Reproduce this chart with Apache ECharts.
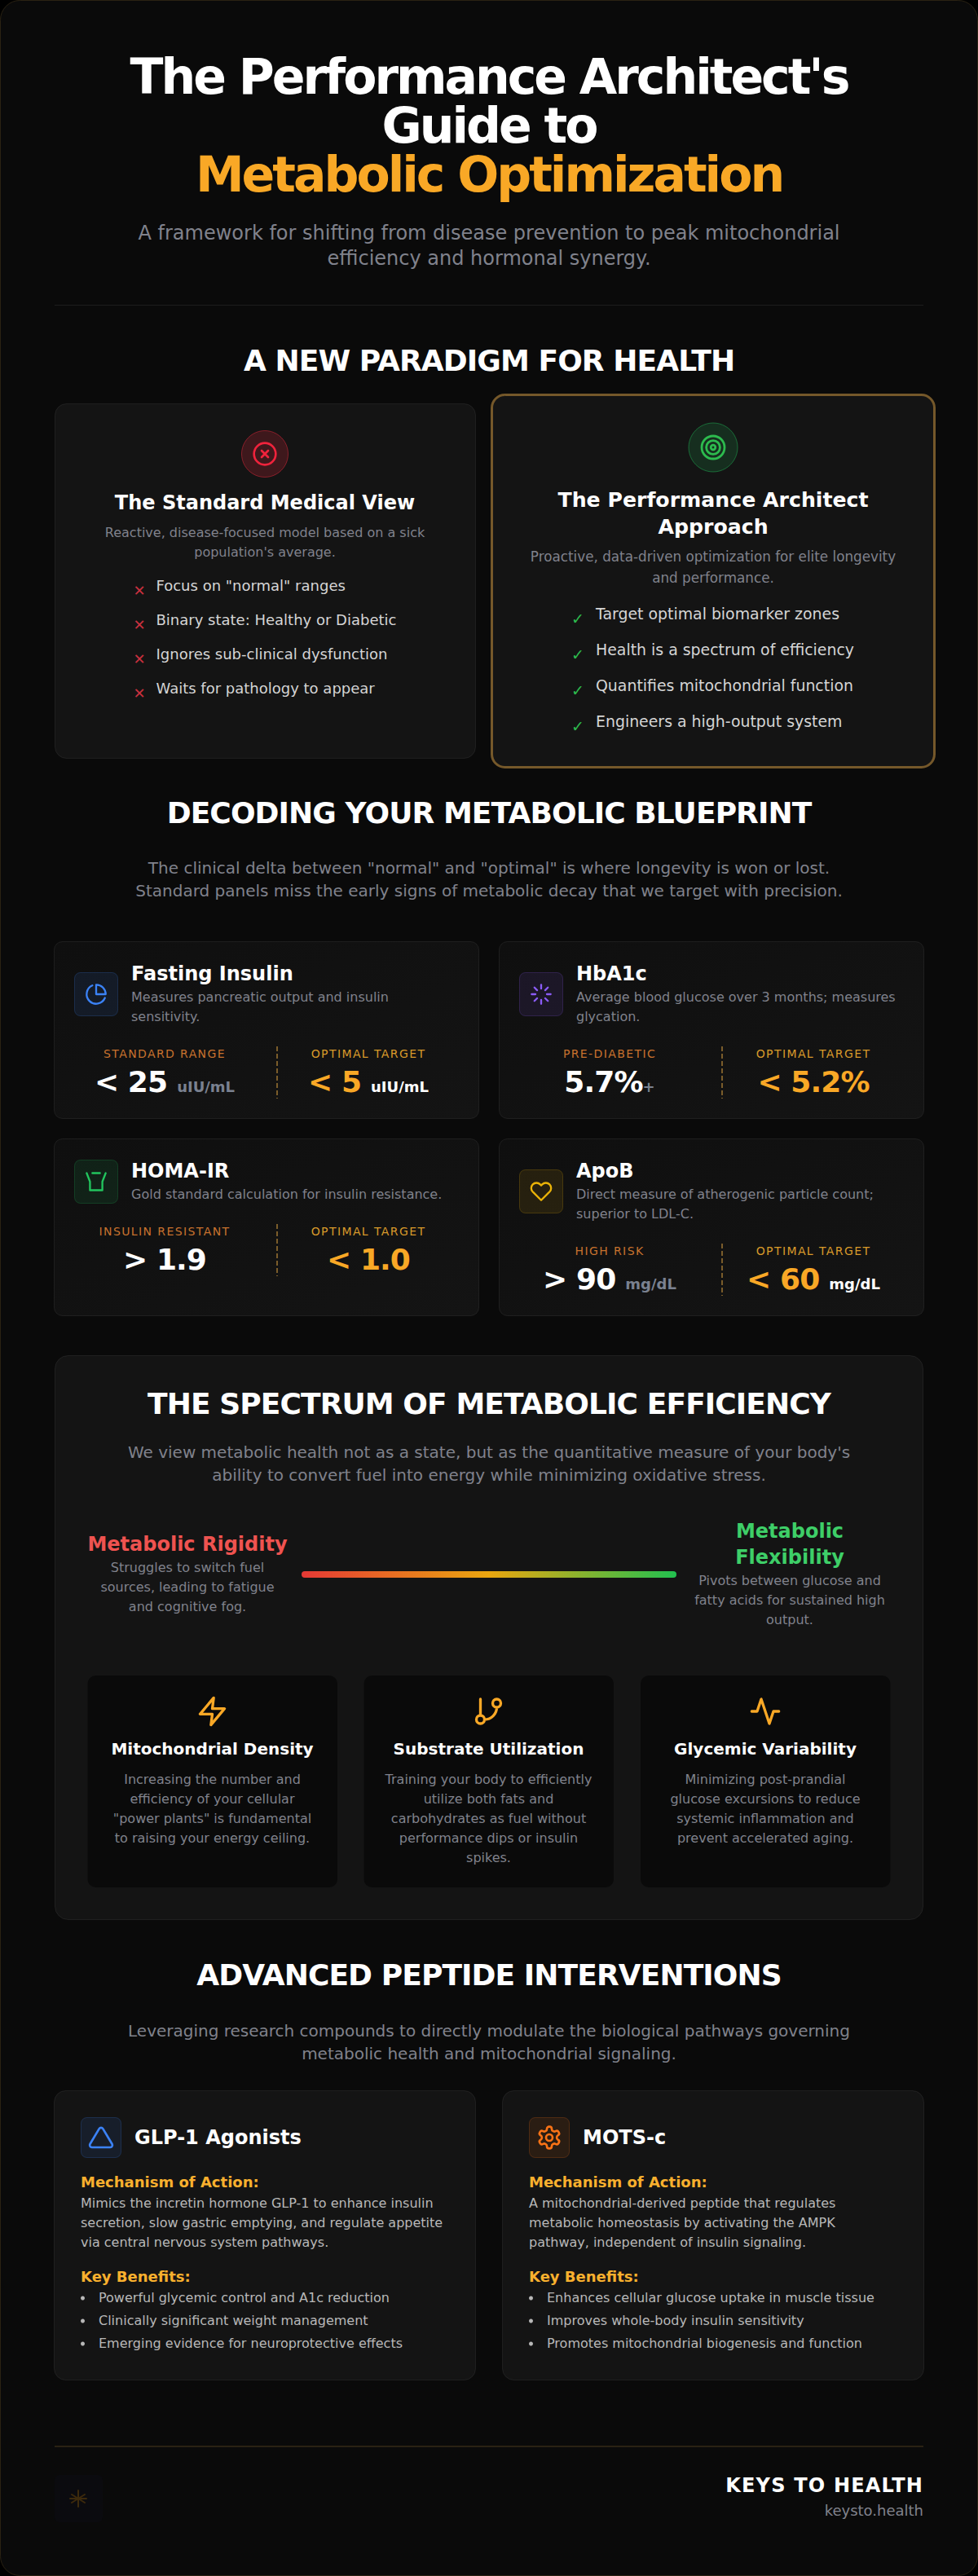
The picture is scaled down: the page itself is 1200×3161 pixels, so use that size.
<!DOCTYPE html>
<html>
<head>
<meta charset="utf-8">
<title>Metabolic Optimization</title>
<script src="https://cdn.jsdelivr.net/npm/echarts@6/dist/echarts.min.js"></script>
<style>html,body{margin:0;padding:0;background:#000}</style>
</head>
<body>
<div id="main" style="width:1200px;height:3161px"></div>
<script type="text/javascript">
var pageTitle = ["The Performance Architect's", 'Guide to', 'Metabolic Optimization'];
var pageSubtitle = ['A framework for shifting from disease prevention to peak mitochondrial', 'efficiency and hormonal synergy.'];

var standardItems = ['Focus on "normal" ranges', 'Binary state: Healthy or Diabetic', 'Ignores sub-clinical dysfunction', 'Waits for pathology to appear'];
var architectItems = ['Target optimal biomarker zones', 'Health is a spectrum of efficiency', 'Quantifies mitochondrial function', 'Engineers a high-output system'];

var blueprintIntro = ['The clinical delta between "normal" and "optimal" is where longevity is won or lost.', 'Standard panels miss the early signs of metabolic decay that we target with precision.'];
var markerNames = ['Fasting Insulin', 'HbA1c', 'HOMA-IR', 'ApoB'];
var markerDescs = [
    ['Measures pancreatic output and insulin', 'sensitivity.'],
    ['Average blood glucose over 3 months; measures', 'glycation.'],
    ['Gold standard calculation for insulin resistance.'],
    ['Direct measure of atherogenic particle count;', 'superior to LDL-C.']
];
var markerIcons = ['pie', 'loader', 'cup', 'heart'];
var markerColors = ['#3b82f6', '#8b5cf6', '#22c55e', '#eab308'];
var riskLabels = ['STANDARD RANGE', 'PRE-DIABETIC', 'INSULIN RESISTANT', 'HIGH RISK'];
var riskValues = ['< 25', '5.7%', '> 1.9', '> 90'];
var riskUnits = ['uIU/mL', '+', '', 'mg/dL'];
var targetValues = ['< 5', '< 5.2%', '< 1.0', '< 60'];
var targetUnits = ['uIU/mL', '', '', 'mg/dL'];

var spectrumIntro = ["We view metabolic health not as a state, but as the quantitative measure of your body's", 'ability to convert fuel into energy while minimizing oxidative stress.'];
var rigidityDesc = ['Struggles to switch fuel', 'sources, leading to fatigue', 'and cognitive fog.'];
var flexibilityDesc = ['Pivots between glucose and', 'fatty acids for sustained high', 'output.'];
var spectrumValue = [100];
var spectrumColors = ['#e53935', '#eaa60f', '#22c04f'];
var pillarNames = ['Mitochondrial Density', 'Substrate Utilization', 'Glycemic Variability'];
var pillarIcons = ['zap', 'branch', 'activity'];
var pillarDescs = [
    ['Increasing the number and', 'efficiency of your cellular', '"power plants" is fundamental', 'to raising your energy ceiling.'],
    ['Training your body to efficiently', 'utilize both fats and', 'carbohydrates as fuel without', 'performance dips or insulin', 'spikes.'],
    ['Minimizing post-prandial', 'glucose excursions to reduce', 'systemic inflammation and', 'prevent accelerated aging.']
];

var peptideIntro = ['Leveraging research compounds to directly modulate the biological pathways governing', 'metabolic health and mitochondrial signaling.'];
var peptideNames = ['GLP-1 Agonists', 'MOTS-c'];
var peptideIcons = ['triangle', 'gear'];
var peptideColors = ['#3b82f6', '#f97316'];
var peptideMechanisms = [
    ['Mimics the incretin hormone GLP-1 to enhance insulin', 'secretion, slow gastric emptying, and regulate appetite', 'via central nervous system pathways.'],
    ['A mitochondrial-derived peptide that regulates', 'metabolic homeostasis by activating the AMPK', 'pathway, independent of insulin signaling.']
];
var peptideBenefits = [
    ['Powerful glycemic control and A1c reduction', 'Clinically significant weight management', 'Emerging evidence for neuroprotective effects'],
    ['Enhances cellular glucose uptake in muscle tissue', 'Improves whole-body insulin sensitivity', 'Promotes mitochondrial biogenesis and function']
];

var FONT = "'DejaVu Sans'";
var GOLD = '#f9a826';
var GREY = '#80828c';
var PANEL = '#141414';
var EDGE = 'rgba(255,255,255,0.07)';

// lucide style icons, 24 unit box
var iconPaths = {
    xcircle: 'M22 12a10 10 0 1 1-20 0a10 10 0 1 1 20 0z M15 9l-6 6 M9 9l6 6',
    target: 'M22 12a10 10 0 1 1-20 0a10 10 0 1 1 20 0z M18 12a6 6 0 1 1-12 0a6 6 0 1 1 12 0z M14 12a2 2 0 1 1-4 0a2 2 0 1 1 4 0z',
    pie: 'M21.21 15.89A10 10 0 1 1 8 2.83 M22 12A10 10 0 0 0 12 2v10z',
    loader: 'M12 2v4 M12 18v4 M4.93 4.93l2.83 2.83 M16.24 16.24l2.83 2.83 M2 12h4 M18 12h4 M4.93 19.07l2.83-2.83 M16.24 7.76l2.83-2.83',
    cup: 'M2 3l3.5 9v9h13v-9l3.5-9 M8 3h8',
    heart: 'M20.84 4.61a5.5 5.5 0 0 0-7.78 0L12 5.67l-1.06-1.06a5.5 5.5 0 0 0-7.78 7.78l1.06 1.06L12 21.23l7.78-7.78 1.06-1.06a5.5 5.5 0 0 0 0-7.78z',
    zap: 'M13 2L3 14h9l-1 8l10-12h-9l1-8z',
    branch: 'M6 3v12 M21 6a3 3 0 1 1-6 0a3 3 0 1 1 6 0z M9 18a3 3 0 1 1-6 0a3 3 0 1 1 6 0z M18 9a9 9 0 0 1-9 9',
    activity: 'M22 12h-4l-3 9L9 3l-3 9H2',
    triangle: 'M10.29 3.86L1.82 18a2 2 0 0 0 1.71 3h16.94a2 2 0 0 0 1.71-3L13.71 3.86a2 2 0 0 0-3.42 0z',
    gear: 'M12.22 2h-.44a2 2 0 0 0-2 2v.18a2 2 0 0 1-1 1.73l-.43.25a2 2 0 0 1-2 0l-.15-.08a2 2 0 0 0-2.73.73l-.22.38a2 2 0 0 0 .73 2.73l.15.1a2 2 0 0 1 1 1.72v.51a2 2 0 0 1-1 1.74l-.15.09a2 2 0 0 0-.73 2.73l.22.38a2 2 0 0 0 2.73.73l.15-.08a2 2 0 0 1 2 0l.43.25a2 2 0 0 1 1 1.73V20a2 2 0 0 0 2 2h.44a2 2 0 0 0 2-2v-.18a2 2 0 0 1 1-1.73l.43-.25a2 2 0 0 1 2 0l.15.08a2 2 0 0 0 2.73-.73l.22-.39a2 2 0 0 0-.73-2.73l-.15-.08a2 2 0 0 1-1-1.74v-.5a2 2 0 0 1 1-1.74l.15-.09a2 2 0 0 0 .73-2.73l-.22-.38a2 2 0 0 0-2.73-.73l-.15.08a2 2 0 0 1-2 0l-.43-.25a2 2 0 0 1-1-1.73V4a2 2 0 0 0-2-2z M15 12a3 3 0 1 1-6 0a3 3 0 1 1 6 0z',
    logo: 'M12 2v20 M4 7l16 10 M20 7L4 17 M2 12h20'
};
Object.keys(iconPaths).forEach(function (k) {
    echarts.graphic.registerShape('icon_' + k, echarts.graphic.extendPath(iconPaths[k], {}));
});

var els = [];
var spaced = {};
var measure = document.createElement('canvas').getContext('2d');

function textWidth(str, size, weight, spacing) {
    measure.font = (weight || 'normal') + ' ' + size + 'px ' + FONT;
    return measure.measureText(str).width + (spacing || 0) * str.length;
}

function text(str, x, y, size, color, weight, align, spacing) {
    if (spacing) spaced[str] = spacing;
    els.push({
        type: 'text', x: x, y: y, silent: true,
        style: {
            text: str, fill: color, fontSize: size, fontWeight: weight || 'normal', fontFamily: FONT,
            font: (weight || 'normal') + ' ' + size + 'px ' + FONT,
            align: align || 'center', verticalAlign: 'middle', textAlign: align || 'center', textVerticalAlign: 'middle'
        }
    });
}

function lines(arr, x, y, step, size, color, weight, align, spacing) {
    arr.forEach(function (s, i) { text(s, x, y + i * step, size, color, weight, align, spacing); });
}

function heading(str, y) {
    text(str, 600, y, 36, '#ffffff', 'bold', 'center', -0.9);
}

function box(x, y, w, h, r, fill, stroke, lw) {
    els.push({
        type: 'rect', silent: true,
        shape: { x: x, y: y, width: w, height: h, r: r },
        style: { fill: fill, stroke: stroke || null, lineWidth: lw || 1 }
    });
}

function icon(name, cx, cy, size, color, lw) {
    var s = size / 24;
    els.push({
        type: 'icon_' + name, silent: true,
        x: cx - 12 * s, y: cy - 12 * s, scaleX: s, scaleY: s,
        style: { fill: null, stroke: color, lineWidth: lw || 2, lineCap: 'round', lineJoin: 'round' }
    });
}

function tint(hex, a) {
    var n = parseInt(hex.slice(1), 16);
    return 'rgba(' + (n >> 16) + ',' + ((n >> 8) & 255) + ',' + (n & 255) + ',' + a + ')';
}

function valuePair(value, unit, cx, y, color, unitColor) {
    var gap = unit && unit !== '+' ? 12 : 0;
    var w1 = textWidth(value, 36, 'bold', -0.9);
    var w2 = unit ? textWidth(unit, 18, 'bold') : 0;
    var left = cx - (w1 + gap + w2) / 2;
    text(value, left, y, 36, color, 'bold', 'left', -0.9);
    if (unit) text(unit, left + w1 + gap, y + 6, 18, unitColor, 'bold', 'left');
}

// page frame
box(0.5, 0.5, 1199, 3160, 24, '#0a0a0a', '#2a2213', 1);

// header
lines(pageTitle.slice(0, 2), 600, 94, 60, 60, '#ffffff', 'bold', 'center', -3);
text(pageTitle[2], 600, 214, 60, GOLD, 'bold', 'center', -3);
lines(pageSubtitle, 600, 286, 31, 24, GREY);
box(67, 374, 1066, 1, 0, '#1d1d1d');

// paradigm section
heading('A NEW PARADIGM FOR HEALTH', 442);

box(67.5, 495.5, 516, 435, 14, PANEL, EDGE);
els.push({ type: 'circle', silent: true, shape: { cx: 325, cy: 557, r: 28.5 }, style: { fill: 'rgba(229,40,60,0.2)', stroke: 'rgba(229,40,60,0.5)', lineWidth: 1 } });
icon('xcircle', 325, 557, 32, '#ef233c');
text('The Standard Medical View', 325, 617, 24, '#ffffff', 'bold');
lines(['Reactive, disease-focused model based on a sick', "population's average."], 325, 653, 24, 16, GREY);
standardItems.forEach(function (s, i) {
    text('\u2715', 171, 724 + i * 42, 18, '#c9303e');
    text(s, 191.5, 718.5 + i * 42, 18, '#d5d5d5', 'normal', 'left');
});

box(603.5, 484.5, 543, 457, 16, PANEL, '#75582a', 3);
els.push({ type: 'circle', silent: true, shape: { cx: 875, cy: 549, r: 30 }, style: { fill: 'rgba(34,197,94,0.15)', stroke: 'rgba(34,197,94,0.45)', lineWidth: 1 } });
icon('target', 875, 549, 33.6, '#2dbb4e');
lines(['The Performance Architect', 'Approach'], 875, 613, 33, 25.2, '#ffffff', 'bold');
lines(['Proactive, data-driven optimization for elite longevity', 'and performance.'], 875, 683, 25.5, 16.8, GREY);
architectItems.forEach(function (s, i) {
    text('\u2713', 709, 759 + i * 44, 18.9, '#2dbb4e');
    text(s, 731, 753 + i * 44, 18.9, '#d5d5d5', 'normal', 'left');
});

// blueprint section
heading('DECODING YOUR METABOLIC BLUEPRINT', 997.5);
lines(blueprintIntro, 600, 1065, 28, 20, GREY);

markerNames.forEach(function (name, i) {
    var x0 = i % 2 ? 612 : 66;
    var y0 = i < 2 ? 1155 : 1397;
    var extra = markerDescs[i].length === 2 ? 24 : 0;
    var c = markerColors[i];
    els.push({
        type: 'rect', silent: true,
        shape: { x: x0 + 0.5, y: y0 + 0.5, width: 521, height: 217, r: 10 },
        style: {
            stroke: EDGE, lineWidth: 1,
            fill: { type: 'linear', x: 0, y: 0, x2: 1, y2: 1, colorStops: [{ offset: 0, color: '#0f0f0f' }, { offset: 1, color: '#141414' }] }
        }
    });
    box(x0 + 25.5, y0 + 26 + extra / 2 + 0.5, 53, 53, 7, tint(c, 0.1), tint(c, 0.22));
    icon(markerIcons[i], x0 + 52, y0 + 53 + extra / 2, 28, c);
    text(name, x0 + 95, y0 + 40, 24, '#ffffff', 'bold', 'left');
    lines(markerDescs[i], x0 + 95, y0 + 68, 24, 16, GREY, 'normal', 'left');
    text(riskLabels[i], x0 + 136, y0 + 114 + extra, 14, '#c8722e', 'normal', 'center', 1.4);
    text('OPTIMAL TARGET', x0 + 386, y0 + 114 + extra, 14, '#d99a2a', 'normal', 'center', 1.4);
    els.push({
        type: 'line', silent: true,
        shape: { x1: x0 + 274, y1: y0 + 105 + extra, x2: x0 + 274, y2: y0 + 169 + extra },
        style: { stroke: '#7a5c2a', lineWidth: 2, lineDash: [6, 3] }
    });
    valuePair(riskValues[i], riskUnits[i], x0 + 136, y0 + 148 + extra, '#ffffff', '#7a8190');
    valuePair(targetValues[i], targetUnits[i], x0 + 386, y0 + 148 + extra, GOLD, '#ffffff');
});

// spectrum section
box(67.5, 1663.5, 1065, 692, 16, PANEL, EDGE);
heading('THE SPECTRUM OF METABOLIC EFFICIENCY', 1722.5);
lines(spectrumIntro, 600, 1782, 28, 20, GREY);
text('Metabolic Rigidity', 230, 1895, 24, '#ef5350', 'bold');
lines(rigidityDesc, 230, 1923, 24, 16, GREY);
lines(['Metabolic', 'Flexibility'], 969, 1879, 32, 24, '#3ecf68', 'bold');
lines(flexibilityDesc, 969, 1939, 24, 16, GREY);

pillarNames.forEach(function (name, i) {
    var x0 = [107.5, 446.5, 786][i];
    box(x0, 2056, 306.5, 260, 10, '#0a0a0a');
    icon(pillarIcons[i], x0 + 153, 2100, 40, GOLD);
    text(name, x0 + 153, 2146, 20, '#ffffff', 'bold');
    lines(pillarDescs[i], x0 + 153, 2183, 24, 16, GREY);
});

// peptide section
heading('ADVANCED PEPTIDE INTERVENTIONS', 2423.5);
lines(peptideIntro, 600, 2492, 28, 20, GREY);

peptideNames.forEach(function (name, i) {
    var x0 = i ? 616 : 66;
    var c = peptideColors[i];
    box(x0 + 0.5, 2565.5, 517, 355, 14, PANEL, EDGE);
    box(x0 + 33.5, 2598.5, 49, 49, 7, tint(c, 0.1), tint(c, 0.22));
    icon(peptideIcons[i], x0 + 58, 2623, 32, c);
    text(name, x0 + 99, 2623, 24, '#ffffff', 'bold', 'left');
    text('Mechanism of Action:', x0 + 33, 2677, 18, '#f9b02e', 'bold', 'left');
    lines(peptideMechanisms[i], x0 + 33, 2703, 24, 16, '#b8b8b8', 'normal', 'left');
    text('Key Benefits:', x0 + 33, 2793, 18, '#f9b02e', 'bold', 'left');
    peptideBenefits[i].forEach(function (s, j) {
        els.push({ type: 'circle', silent: true, shape: { cx: x0 + 35.5, cy: 2820 + j * 28, r: 2.5 }, style: { fill: '#b8b8b8' } });
        text(s, x0 + 55, 2819 + j * 28, 16, '#b8b8b8', 'normal', 'left');
    });
});

// footer
box(67, 3001, 1066, 2, 0, '#2a2213');
box(67, 3037, 59, 58, 6, '#0b0b0f');
icon('logo', 96, 3066, 24, '#3d2a0c');
text('KEYS TO HEALTH', 1133, 3050, 24, '#ffffff', 'bold', 'right', 1.2);
text('keysto.health', 1133, 3080, 18, GREY, 'normal', 'right');

var myChart = echarts.init(document.getElementById('main'), null, { renderer: 'svg' });
myChart.setOption({
    animation: false,
    backgroundColor: '#000000',
    graphic: { elements: els },
    grid: { left: 370, top: 1928, width: 460, height: 8, containLabel: false },
    xAxis: { type: 'value', min: 0, max: 100, show: false },
    yAxis: { type: 'category', data: ['spectrum'], show: false },
    series: [{
        type: 'bar',
        silent: true,
        barWidth: 8,
        data: spectrumValue,
        itemStyle: {
            borderRadius: 4,
            color: {
                type: 'linear', x: 0, y: 0, x2: 1, y2: 0,
                colorStops: spectrumColors.map(function (c, i) {
                    return { offset: i / (spectrumColors.length - 1), color: c };
                })
            }
        }
    }]
});

// the library has no letter spacing option, set it on the svg text it drew
function applySpacing() {
    var nodes = document.querySelectorAll('#main svg text');
    for (var i = 0; i < nodes.length; i++) {
        var ls = spaced[nodes[i].textContent];
        if (ls) nodes[i].style.letterSpacing = ls + 'px';
    }
}
applySpacing();
myChart.on('finished', applySpacing);
</script>
</body>
</html>
